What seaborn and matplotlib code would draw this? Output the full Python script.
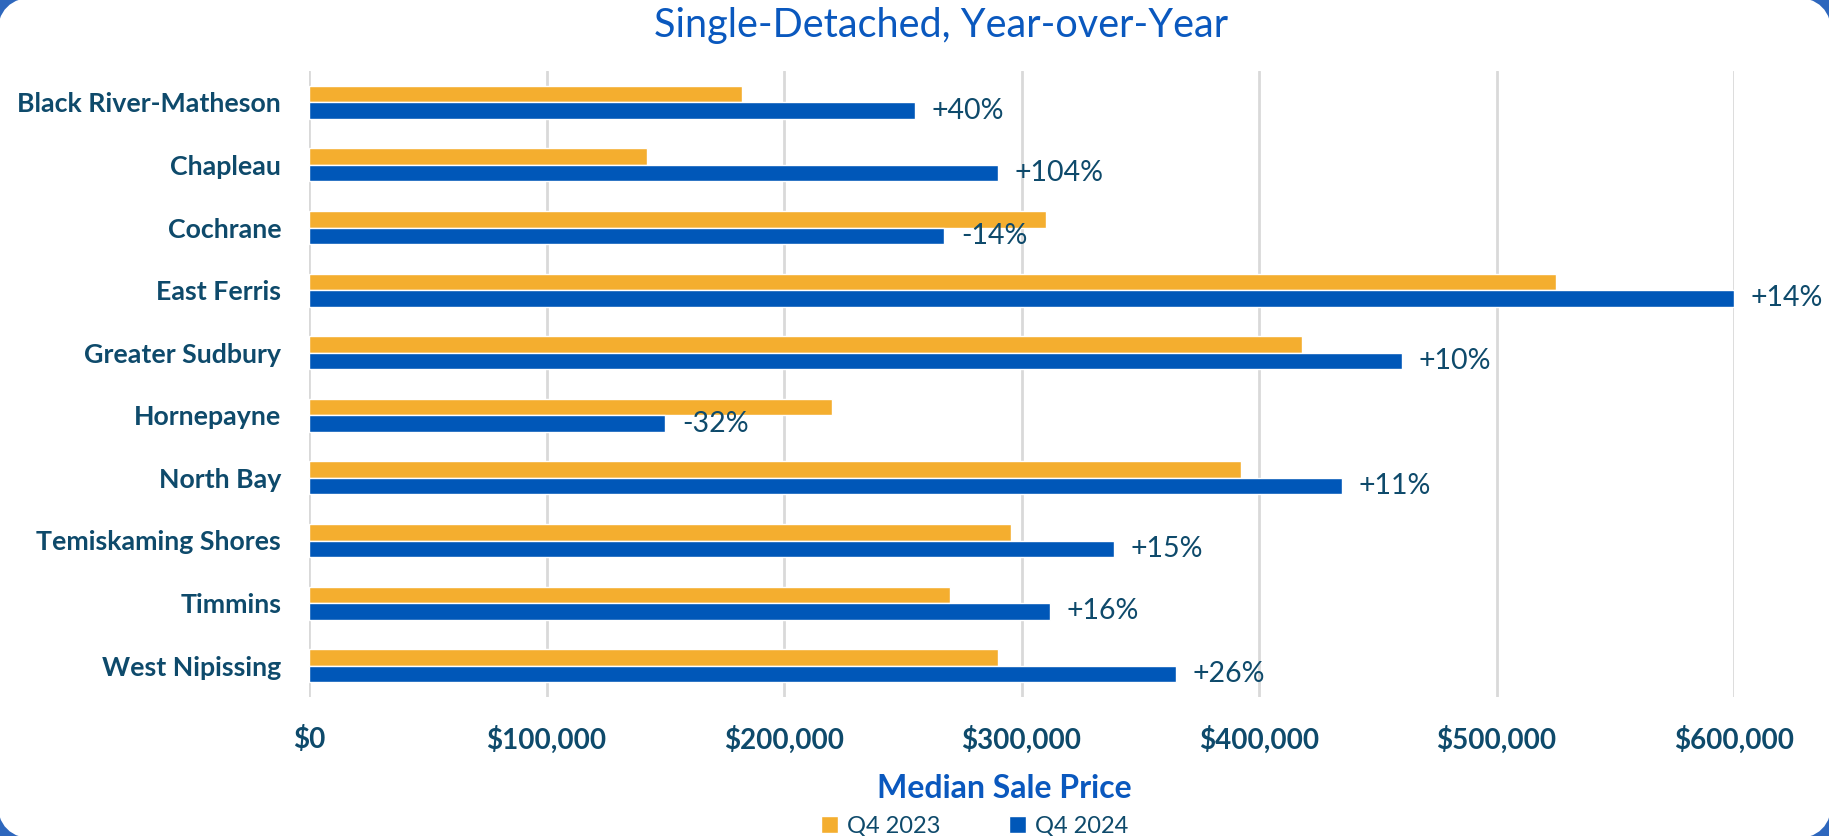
import matplotlib
matplotlib.use("Agg")
import matplotlib.pyplot as plt
import matplotlib as mpl
from matplotlib.patches import FancyBboxPatch, Patch
import pandas as pd
import seaborn as sns

# data
cities = ["Black River-Matheson", "Chapleau", "Cochrane", "East Ferris",
          "Greater Sudbury", "Hornepayne", "North Bay", "Temiskaming Shores",
          "Timmins", "West Nipissing"]
q4_2023 = [182500, 142500, 310500, 525000, 418000, 220000, 392500, 295500, 270000, 290000]
q4_2024 = [255000, 290000, 267500, 600000, 460000, 150000, 435000, 339000, 312000, 365000]
pct_labels = ["+40%", "+104%", "-14%", "+14%", "+10%", "-32%", "+11%", "+15%", "+16%", "+26%"]
periods = ["Q4 2023", "Q4 2024"]
xticks = [0, 100000, 200000, 300000, 400000, 500000, 600000]

YELLOW = "#F4AE2F"
BLUE = "#0057B8"
DARK = "#0E4A6B"
TITLE_BLUE = "#0A58BE"

df = pd.DataFrame({
    "city": cities * 2,
    "period": [periods[0]] * len(cities) + [periods[1]] * len(cities),
    "price": q4_2023 + q4_2024,
})

sns.set_style("white")
plt.rcParams["font.family"] = ["Lato", "DejaVu Sans"]

W, H = 1829, 836
fig = plt.figure(figsize=(W / 100, H / 100), dpi=100)
fig.patch.set_facecolor("#2E67BD")

# white rounded panel (slide frame), in pixel coords, behind everything
panel = FancyBboxPatch((-3, -3), W + 6, H + 6, boxstyle="round,pad=0,rounding_size=40",
                       facecolor="white", edgecolor="none", zorder=-10,
                       transform=mpl.transforms.IdentityTransform())
fig.patches.append(panel)

ax = fig.add_axes([309 / W, 1 - 697 / H, (1734 - 309) / W, (697 - 71) / H])
ax.set_facecolor("none")

sns.barplot(data=df, y="city", x="price", hue="period", orient="h",
            palette=[YELLOW, BLUE], width=0.53, saturation=1,
            legend=False, ax=ax)

ax.set_xlim(0, 600000)
ax.set_xticks(xticks)
ax.set_xticklabels(["${:,}".format(v) for v in xticks])
ax.xaxis.grid(True, color="#D9D9D9", linewidth=2)
ax.set_axisbelow(True)
for s in ["top", "right", "bottom", "left"]:
    ax.spines[s].set_visible(False)
ax.set_xlabel("")
ax.set_ylabel("")

ax.tick_params(axis="y", length=0, pad=20, labelsize=19.3, labelcolor=DARK)
ax.tick_params(axis="x", length=0, pad=21, labelsize=20, labelcolor=DARK)
for t in ax.get_yticklabels() + ax.get_xticklabels():
    t.set_fontweight("bold")

# percent change next to the 2024 bars
ax.bar_label(ax.containers[1], labels=pct_labels, padding=12,
             fontsize=20.5, color=DARK, clip_on=False)

fig.text(941 / W, 1 - 26 / H, "Single-Detached, Year-over-Year",
         ha="center", va="center", fontsize=28.5, color=TITLE_BLUE)
fig.text(1004 / W, 1 - 788 / H, "Median Sale Price", ha="center", va="center",
         fontsize=23, fontweight="bold", color=TITLE_BLUE)

handles = [Patch(facecolor=YELLOW), Patch(facecolor=BLUE)]
fig.legend(handles, periods, loc="center", bbox_to_anchor=(975 / W, 1 - 826 / H),
           ncol=2, frameon=False, fontsize=17, labelcolor=DARK,
           handlelength=0.7, handleheight=0.7, handletextpad=0.4,
           columnspacing=2.9)

fig.savefig("out.png", dpi=100, facecolor=fig.get_facecolor())
